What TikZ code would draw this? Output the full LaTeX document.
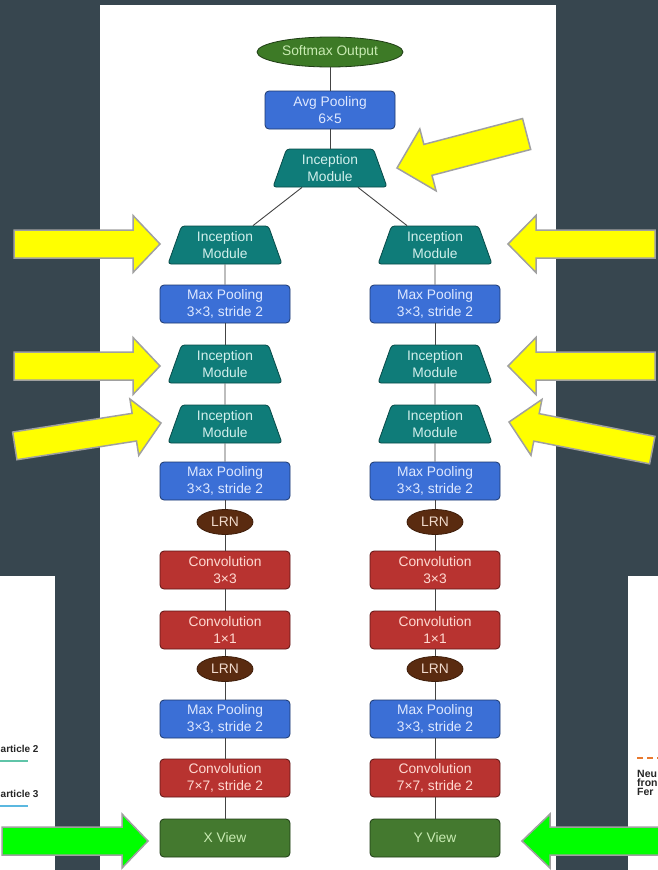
\documentclass[tikz,border=0pt]{standalone}
\usepackage{fontspec}
\setmainfont{Liberation Sans}
\usetikzlibrary{shapes.geometric,calc}
\definecolor{bgslate}{RGB}{55,70,79}
\definecolor{poolfill}{RGB}{59,111,214}
\definecolor{pooldraw}{RGB}{28,56,110}
\definecolor{pooltext}{RGB}{222,232,255}
\definecolor{incfill}{RGB}{15,124,121}
\definecolor{incdraw}{RGB}{8,74,72}
\definecolor{inctext}{RGB}{210,240,236}
\definecolor{convfill}{RGB}{184,51,48}
\definecolor{convdraw}{RGB}{94,21,20}
\definecolor{convtext}{RGB}{255,218,210}
\definecolor{lrnfill}{RGB}{90,43,16}
\definecolor{lrntext}{RGB}{240,218,205}
\definecolor{viewfill}{RGB}{68,121,47}
\definecolor{viewdraw}{RGB}{30,60,20}
\definecolor{viewtext}{RGB}{200,235,178}
\definecolor{softfill}{RGB}{61,122,38}
\definecolor{linkcol}{RGB}{68,68,68}
\definecolor{arrowedge}{RGB}{160,160,160}
\definecolor{hiyellow}{RGB}{255,255,0}
\definecolor{higreen}{RGB}{0,255,0}
\definecolor{tealline}{RGB}{95,196,168}
\definecolor{blueline}{RGB}{91,184,224}
\definecolor{orangeline}{RGB}{232,121,46}
\newcommand\fatarrow[7]{%
  \begin{scope}[shift={#2}, rotate=#3]
    \draw[#1] (0,0) -- (-#5,-#7/2) -- (-#5,-#6/2) -- (-#4,-#6/2) -- (-#4,#6/2) -- (-#5,#6/2) -- (-#5,#7/2) -- cycle;
  \end{scope}}
\tikzset{
  lbl/.style={font=\fontsize{13.8}{16.5}\selectfont, align=center},
  box/.style={lbl, rectangle, rounded corners=4pt, minimum width=130pt, minimum height=38pt, line width=0.8pt, inner sep=1pt},
  pool/.style={box, fill=poolfill, draw=pooldraw, text=pooltext},
  conv/.style={box, fill=convfill, draw=convdraw, text=convtext},
  view/.style={box, fill=viewfill, draw=viewdraw, text=viewtext},
  incep/.style={lbl, trapezium, trapezium stretches body, trapezium left angle=63, trapezium right angle=63,
     minimum width=114pt, minimum height=38pt, inner sep=0pt, rounded corners=3pt,
     fill=incfill, draw=incdraw, line width=0.8pt, text=inctext},
  lrn/.style={lbl, ellipse, minimum width=56pt, minimum height=25pt, inner sep=0pt, fill=lrnfill, draw=lrnfill!70!black, line width=0.8pt, text=lrntext},
  soft/.style={lbl, ellipse, minimum width=146pt, minimum height=30pt, inner sep=0pt, fill=softfill, draw=viewdraw, line width=0.8pt, text=viewtext},
  link/.style={draw=linkcol, line width=0.9pt},
  yarrow/.style={fill=hiyellow, draw=arrowedge, line width=1.5pt, line join=miter},
  garrow/.style={fill=higreen, draw=arrowedge, line width=1.5pt, line join=miter},
  sidetext/.style={font=\fontsize{10}{10}\selectfont\bfseries, text=black!85, inner sep=0pt},
  sidetextr/.style={font=\fontsize{10.5}{10}\selectfont\bfseries, text=black!85, inner sep=0pt}
}
\begin{document}
\begin{tikzpicture}[x=1pt,y=-1pt]
\useasboundingbox (0,0) rectangle (658,870);
\fill[bgslate] (0,0) rectangle (658,870);
% panels
\fill[white] (100,5) rectangle (556,870);
\fill[white] (0,576) rectangle (55,870);
\fill[white] (628,576) rectangle (658,870);
% left side panel content
\node[sidetext, anchor=base west] (a2) at (0.5,752) {article 2};
\node[sidetext, anchor=base west] (a3) at (0.5,797) {article 3};
\draw[tealline, line width=1.5pt] (0,761) -- (28,761);
\draw[blueline, line width=1.5pt] (0,806) -- (28,806);
% right side panel content (cut off)
\begin{scope}
  \clip (628,576) rectangle (658,870);
  \draw[orangeline, line width=2pt, dash pattern=on 6pt off 4pt] (637,758) -- (660,758);
  \node[sidetextr, anchor=base west] (n1) at (637,777) {Neu};
  \node[sidetextr, anchor=base west] (n2) at (637,786) {fron};
  \node[sidetextr, anchor=base west] (n3) at (637,795) {Fer};
\end{scope}
% top of network
\node[soft] (softmax) at (330,52) {Softmax Output};
\node[pool] (avg) at (330,110) {Avg Pooling\\6×5};
\node[incep] (itop) at (330,168) {Inception\\Module};
\draw[link] (softmax) -- (avg);
\draw[link] (avg) -- (itop);
% two columns
\foreach \c/\x/\v in {L/225/X, R/435/Y}{
  \node[incep] (\c i1) at (\x,245) {Inception\\Module};
  \node[pool]  (\c p1) at (\x,304) {Max Pooling\\3×3, stride 2};
  \node[incep] (\c i2) at (\x,364) {Inception\\Module};
  \node[incep] (\c i3) at (\x,424) {Inception\\Module};
  \node[pool]  (\c p2) at (\x,481) {Max Pooling\\3×3, stride 2};
  \node[lrn]   (\c l1) at (\x,522) {LRN};
  \node[conv]  (\c c3) at (\x,570) {Convolution\\3×3};
  \node[conv]  (\c c1) at (\x,630) {Convolution\\1×1};
  \node[lrn]   (\c l2) at (\x,669) {LRN};
  \node[pool]  (\c p3) at (\x,719) {Max Pooling\\3×3, stride 2};
  \node[conv]  (\c c7) at (\x,778) {Convolution\\7×7, stride 2};
  \node[view]  (\c v)  at (\x,838) {\v\ View};
  \draw[link] (\c i1) -- (\c p1);
  \draw[link] (\c p1) -- (\c i2);
  \draw[link] (\c i2) -- (\c i3);
  \draw[link] (\c i3) -- (\c p2);
  \draw[link] (\c p2) -- (\c l1);
  \draw[link] (\c l1) -- (\c c3);
  \draw[link] (\c c3) -- (\c c1);
  \draw[link] (\c c1) -- (\c l2);
  \draw[link] (\c l2) -- (\c p3);
  \draw[link] (\c p3) -- (\c c7);
  \draw[link] (\c c7) -- (\c v);
}
\draw[link] ($(itop.south)+(-28,0)$) -- ($(Li1.north)+(28,0)$);
\draw[link] ($(itop.south)+(28,0)$) -- ($(Ri1.north)+(-28,0)$);
% yellow arrows
\fatarrow{yarrow}{(160,244)}{0}{146}{27}{28}{57}
\fatarrow{yarrow}{(160,366)}{0}{146}{27}{28}{57}
\fatarrow{yarrow}{(161,423)}{8.9}{148}{27}{28}{57}
\fatarrow{yarrow}{(508,244)}{180}{147}{28}{28}{57}
\fatarrow{yarrow}{(508,366)}{180}{147}{28}{28}{57}
\fatarrow{yarrow}{(509,422)}{168.9}{146}{28}{28}{57}
\fatarrow{yarrow}{(397,168)}{194.7}{134}{32}{32}{64}
% green arrows
\fatarrow{garrow}{(148,841)}{0}{146}{26}{28}{54}
\fatarrow{garrow}{(522,841)}{180}{140}{28}{28}{54}
\end{tikzpicture}
\end{document}
